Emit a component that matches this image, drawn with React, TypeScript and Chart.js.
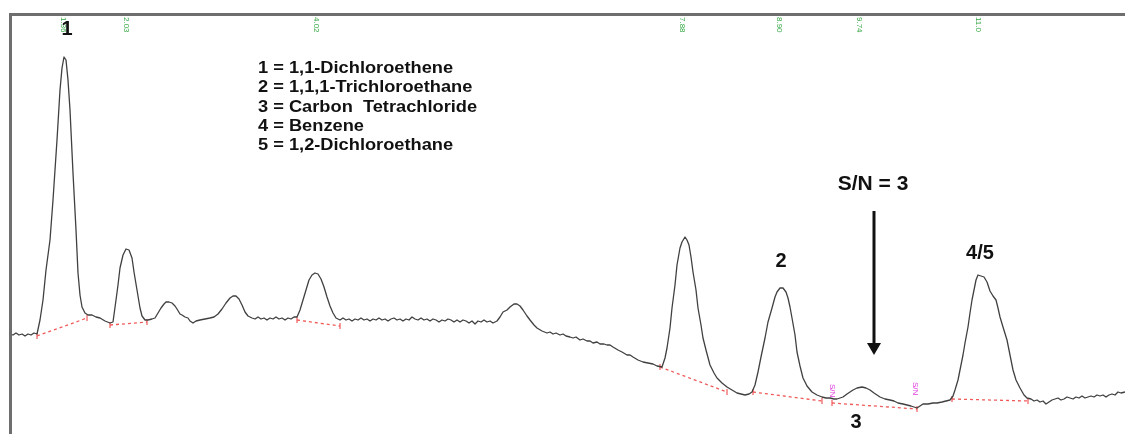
import { useEffect, useRef } from "react";
import { Chart, registerables } from "chart.js";

Chart.register(...registerables);

// Chromatogram trace: [retention time (arbitrary units), detector response]
const tracePoints: [number, number][] = [
  [10, 100], [13, 99], [16, 101], [19, 99], [22, 100], [25, 98], [28, 100], [31, 99], [34, 101], [37, 100],
  [40, 114], [43, 134], [46, 164], [50, 194], [53, 234], [57, 294], [60, 344], [62, 366], [64, 377], [66, 374], [68, 354], [70, 324], [73, 261], [76, 204], [78, 161], [80, 139], [82, 127], [85, 121], [88, 119], [92, 119], [96, 117], [100, 116], [105, 113], [110, 111], [113, 112],
  [116, 134], [118, 149], [120, 166], [123, 179], [126, 185], [129, 184], [132, 176], [134, 162], [137, 144], [140, 126], [142, 118], [145, 114], [148, 114], [152, 115], [155, 116],
  [158, 121], [161, 126], [164, 130], [166, 132], [169, 132], [172, 131], [175, 128], [177, 125], [180, 120], [182, 119], [185, 117], [188, 116], [190, 113], [193, 111], [196, 113], [200, 114], [205, 115], [210, 116], [214, 117],
  [218, 120], [222, 125], [226, 131], [230, 136], [233, 138], [236, 138], [239, 135], [242, 129], [245, 122], [248, 118], [252, 116], [255, 115], [258, 117], [261, 115], [264, 116], [267, 114], [270, 116], [273, 115], [276, 117], [279, 115], [282, 116], [285, 114], [288, 116], [291, 115], [294, 117], [297, 117],
  [300, 124], [303, 134], [306, 144], [309, 154], [312, 159], [315, 161], [318, 160], [321, 155], [324, 147], [327, 137], [330, 128], [333, 121], [336, 116],
  [340, 114], [343, 116], [346, 114], [349, 115], [352, 113], [355, 115], [358, 114], [361, 116], [364, 114], [367, 115], [370, 113], [373, 115], [376, 114], [379, 116], [382, 114], [385, 115], [388, 113], [391, 115], [394, 116], [397, 114], [400, 115], [403, 113], [406, 115], [409, 114], [412, 117], [415, 115], [418, 114], [421, 116], [424, 114], [427, 115], [430, 113], [433, 115], [436, 114], [439, 112], [442, 114], [445, 113], [448, 115], [451, 114], [454, 112], [457, 114], [460, 112], [463, 114], [466, 113], [469, 111], [472, 113], [475, 110], [478, 113], [481, 112], [484, 114], [487, 112], [490, 113], [493, 111], [497, 113],
  [500, 117], [503, 122], [507, 124], [510, 127], [514, 130], [517, 130], [520, 128], [523, 124], [527, 118], [530, 114], [534, 109], [537, 106], [542, 103], [547, 101], [550, 102], [553, 100], [556, 101], [560, 99], [563, 100], [566, 98], [570, 97], [573, 96], [576, 97], [580, 94], [583, 95], [587, 93], [590, 93], [593, 91], [597, 92], [600, 90], [604, 90], [607, 89], [610, 89], [613, 87], [618, 84], [622, 82], [627, 79], [630, 79], [633, 77], [638, 74], [643, 72], [648, 71], [653, 70], [657, 68], [662, 67],
  [665, 76], [667, 86], [670, 106], [672, 126], [675, 149], [677, 169], [680, 186], [682, 192], [685, 197], [687, 194], [689, 189], [691, 177], [693, 162], [696, 144], [698, 126], [701, 109], [703, 96], [706, 84], [710, 69], [714, 61], [717, 56], [722, 51], [727, 47], [732, 44], [737, 41], [741, 40], [745, 39], [749, 40], [752, 42],
  [755, 49], [758, 62], [761, 77], [765, 96], [768, 112], [772, 126], [775, 137], [777, 142], [780, 146], [783, 146], [786, 142], [788, 136], [790, 127], [792, 116], [795, 99], [797, 82], [800, 68], [803, 56], [807, 48], [812, 42], [817, 39], [822, 37], [826, 36], [830, 36], [834, 35], [837, 35],
  [840, 36], [843, 37], [847, 40], [850, 42], [853, 44], [857, 46], [862, 47], [866, 46], [870, 44], [874, 41], [877, 39], [880, 37], [885, 35], [890, 34], [894, 33], [898, 31], [903, 30], [907, 29], [911, 28], [914, 27], [917, 26], [920, 28], [923, 30], [928, 30], [933, 31], [937, 31], [942, 32], [946, 33], [950, 34],
  [953, 38], [955, 44], [958, 54], [960, 64], [963, 79], [965, 91], [968, 107], [970, 121], [972, 134], [974, 144], [976, 154], [978, 159], [981, 158], [984, 157], [987, 152], [990, 143], [993, 138], [996, 134], [998, 126], [1000, 117], [1003, 107], [1007, 94], [1010, 79], [1013, 64], [1016, 54], [1020, 46], [1024, 39], [1027, 36],
  [1031, 35], [1034, 33], [1037, 34], [1040, 32], [1043, 33], [1046, 30], [1049, 32], [1052, 34], [1055, 35], [1058, 36], [1061, 34], [1064, 35], [1067, 37], [1070, 36], [1073, 35], [1076, 37], [1079, 36], [1082, 38], [1085, 36], [1088, 37], [1091, 38], [1094, 37], [1097, 39], [1100, 38], [1103, 39], [1106, 37], [1109, 39], [1112, 40], [1115, 39], [1118, 42], [1121, 41], [1125, 42],
];

// Integration baselines (start / end of each drawn baseline)
const baseStartTime = [37, 110, 297, 660, 753, 832, 952];
const baseStartResp = [98, 109, 114, 67, 42, 31, 35];
const baseEndTime = [87, 147, 340, 727, 822, 917, 1028];
const baseEndResp = [116, 112, 108, 42, 33, 25, 33];

// Peak number labels
const peakLabels = ["1", "2", "3", "4/5"];
const peakLabelTime = [67, 781, 856, 980];
const peakLabelResp = [399, 167, 6, 175];

// Compound key
const keyLines = [
  "1 = 1,1-Dichloroethene",
  "2 = 1,1,1-Trichloroethane",
  "3 = Carbon  Tetrachloride",
  "4 = Benzene",
  "5 = 1,2-Dichloroethane",
];
const keyTime = 258;
const keyResp = [361, 342, 322.5, 303.5, 284];

// S/N annotation
const snText = "S/N = 3";
const snTime = 873;
const snResp = 244;
const arrowTime = 874;
const arrowTopResp = 223;
const arrowTipResp = 79;

// Retention-time marks at the top of the trace
const rtTime = [63, 126, 316, 682, 779, 859, 978];
const rtText = ["1.36", "2.03", "4.02", "7.88", "8.90", "9.74", "11.0"];

// Noise-window marks
const noiseTime = [832, 915];
const noiseResp = [50, 52];
const noiseText = ["S/N", "S/N"];

export default function App() {
  const ref = useRef<HTMLCanvasElement | null>(null);

  useEffect(() => {
    document.body.style.margin = "0";
    const canvas = ref.current;
    if (!canvas) return;

    const traceData = tracePoints.map(([t, r]) => ({ x: t, y: r }));
    const baseSets = baseStartTime.map((t, i) => ({
      data: [
        { x: t, y: baseStartResp[i] },
        { x: baseEndTime[i], y: baseEndResp[i] },
      ],
      borderColor: "#f05a5a",
      borderWidth: 1.3,
      borderDash: [3, 3],
      pointStyle: "line" as const,
      pointRotation: 90,
      pointRadius: 3,
      pointBorderColor: "#f05a5a",
      pointBorderWidth: 1.2,
      pointBackgroundColor: "#f05a5a",
      fill: false,
      tension: 0,
    }));

    const overlay = {
      id: "overlay",
      afterDatasetsDraw(chart: any) {
        const ctx = chart.ctx as CanvasRenderingContext2D;
        const xs = chart.scales.x;
        const ys = chart.scales.y;
        const area = chart.chartArea;
        ctx.save();

        // frame (left and top)
        ctx.strokeStyle = "#6e6e6e";
        ctx.lineWidth = 3;
        ctx.beginPath();
        ctx.moveTo(area.left + 0.5, chart.height);
        ctx.lineTo(area.left + 0.5, area.top + 0.5);
        ctx.lineTo(chart.width, area.top + 0.5);
        ctx.stroke();

        // retention time marks
        ctx.fillStyle = "#36a846";
        ctx.strokeStyle = "#36a846";
        ctx.lineWidth = 1;
        ctx.font = "8px 'Liberation Sans', Arial, sans-serif";
        ctx.textBaseline = "middle";
        rtTime.forEach((t, i) => {
          const px = xs.getPixelForValue(t);
          ctx.save();
          ctx.translate(px, area.top + 3);
          ctx.rotate(Math.PI / 2);
          ctx.fillText(rtText[i], 0, 0);
          ctx.restore();
        });

        // noise marks
        ctx.fillStyle = "#e040e0";
        noiseTime.forEach((t, i) => {
          const px = xs.getPixelForValue(t);
          const py = ys.getPixelForValue(noiseResp[i]);
          ctx.save();
          ctx.translate(px, py);
          ctx.rotate(Math.PI / 2);
          ctx.fillText(noiseText[i], 0, 0);
          ctx.restore();
        });

        // peak labels
        ctx.fillStyle = "#111";
        ctx.textBaseline = "alphabetic";
        ctx.textAlign = "center";
        ctx.font = "bold 20px 'Liberation Sans', Arial, sans-serif";
        peakLabels.forEach((l, i) => {
          ctx.fillText(l, xs.getPixelForValue(peakLabelTime[i]), ys.getPixelForValue(peakLabelResp[i]));
        });

        // S/N text
        ctx.font = "bold 21px 'Liberation Sans', Arial, sans-serif";
        ctx.fillText(snText, xs.getPixelForValue(snTime), ys.getPixelForValue(snResp));

        // compound key
        ctx.textAlign = "left";
        ctx.font = "bold 16px 'Liberation Sans', Arial, sans-serif";
        keyLines.forEach((l, i) => {
          ctx.save();
          ctx.translate(xs.getPixelForValue(keyTime), ys.getPixelForValue(keyResp[i]));
          ctx.scale(1.14, 1);
          ctx.fillText(l, 0, 0);
          ctx.restore();
        });

        // arrow
        const ax = xs.getPixelForValue(arrowTime);
        const ay0 = ys.getPixelForValue(arrowTopResp);
        const ay1 = ys.getPixelForValue(arrowTipResp);
        ctx.strokeStyle = "#111";
        ctx.fillStyle = "#111";
        ctx.lineWidth = 3;
        ctx.beginPath();
        ctx.moveTo(ax, ay0);
        ctx.lineTo(ax, ay1 - 10);
        ctx.stroke();
        ctx.beginPath();
        ctx.moveTo(ax - 7, ay1 - 12);
        ctx.lineTo(ax + 7, ay1 - 12);
        ctx.lineTo(ax, ay1);
        ctx.closePath();
        ctx.fill();

        ctx.restore();
      },
    };

    const chart = new Chart(canvas, {
      type: "line",
      data: {
        datasets: [
          {
            data: traceData,
            borderColor: "#404040",
            borderWidth: 1.3,
            pointRadius: 0,
            fill: false,
            tension: 0,
          },
          ...baseSets,
        ],
      },
      options: {
        animation: false,
        responsive: false,
        layout: { autoPadding: false, padding: { left: 10, top: 14, right: 0, bottom: 0 } },
        plugins: { legend: { display: false }, tooltip: { enabled: false } },
        scales: {
          x: { type: "linear", min: 10, max: 1125, display: false },
          y: { type: "linear", min: 0, max: 420, display: false },
        },
        elements: { line: { borderJoinStyle: "round" } },
      },
      plugins: [overlay],
    } as any);

    return () => chart.destroy();
  }, []);

  return (
    <div style={{ position: "absolute", left: 0, top: 0, width: 1125, height: 434, background: "#fff" }}>
      <canvas ref={ref} width={1125} height={434} style={{ display: "block" }} />
    </div>
  );
}
